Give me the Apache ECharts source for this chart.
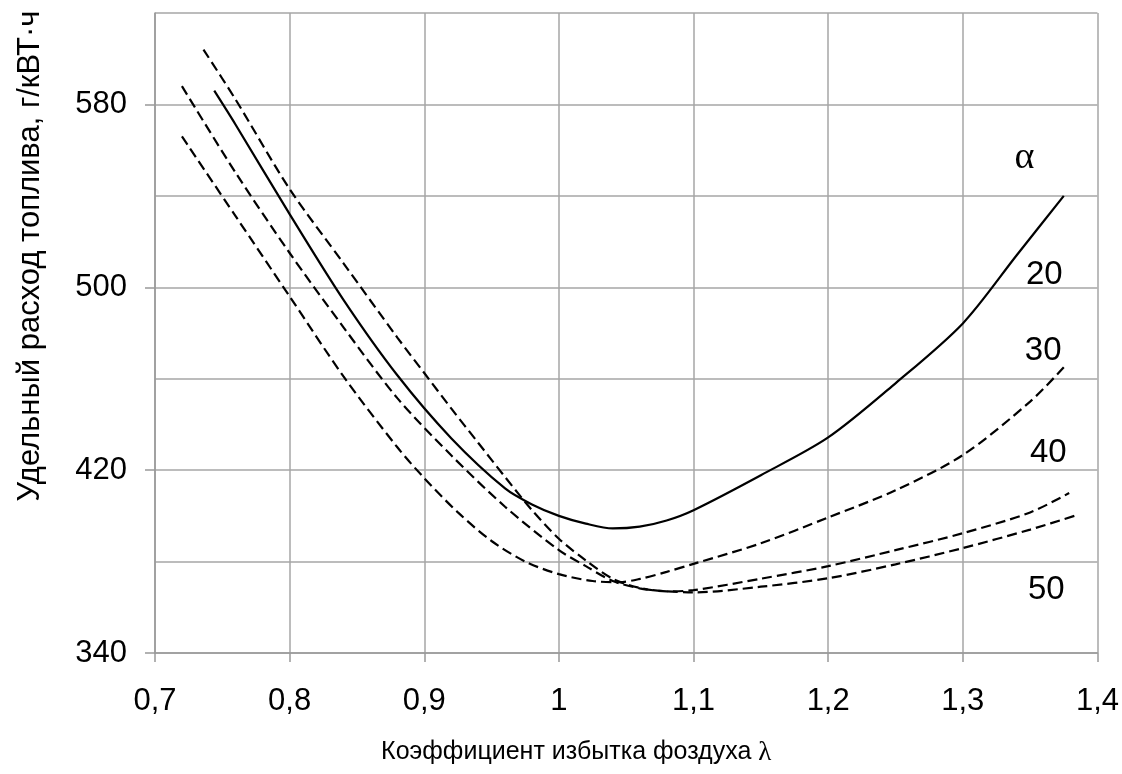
<!DOCTYPE html>
<html><head><meta charset="utf-8">
<script src="https://cdn.jsdelivr.net/npm/echarts@6/dist/echarts.min.js"></script>
<style>html,body{margin:0;padding:0;background:#fff}#c{width:1122px;height:774px}</style>
</head><body><div id="c"></div>
<script>
// Tick values
const yTickLabels = [340, 420, 500, 580];

// Curve series (λ, specific fuel consumption g/kWh)
const alpha20 = [[0.744,586],[0.76,571],[0.8,532],[0.84,494.5],[0.88,461.5],[0.92,434],[0.96,412],[0.98,405],[1.0,400],[1.02,396.6],[1.04,394.5],[1.06,395.3],[1.08,398],[1.1,402.5],[1.15,417.8],[1.2,434.3],[1.25,458],[1.3,484.2],[1.34,514],[1.375,540]];
const alpha30 = [[0.72,566],[0.76,531],[0.8,496],[0.84,461],[0.88,430],[0.9,416.5],[0.925,401.5],[0.95,389],[0.975,380],[1.0,374.5],[1.025,371.5],[1.045,371],[1.06,372.4],[1.08,375.5],[1.1,379],[1.15,388],[1.2,399.3],[1.25,411.2],[1.3,426.6],[1.35,450],[1.375,465]];
const alpha40 = [[0.736,604],[0.76,582],[0.8,543],[0.84,510.5],[0.88,478],[0.9,462.5],[0.92,447],[0.94,432],[0.96,417],[0.98,402.5],[1.0,390],[1.02,380.5],[1.04,372.5],[1.06,368.5],[1.08,367],[1.1,367.5],[1.15,372.5],[1.2,378],[1.25,385],[1.3,392.4],[1.35,401.5],[1.379,410]];
const alpha50 = [[0.72,588],[0.76,550],[0.8,515],[0.84,482.5],[0.88,451.5],[0.92,426.5],[0.96,404],[1.0,385],[1.02,378],[1.04,371.5],[1.06,368.3],[1.08,367],[1.1,366.5],[1.15,369],[1.2,372.7],[1.25,378.8],[1.3,385.9],[1.35,394],[1.385,400.4]];

// Curve annotations
const curveLabels = ['α', '20', '30', '40', '50'];
const curveLabelAnchors = [[1.3457,556.5],[1.3605,505.4],[1.3597,472.1],[1.3635,427.5],[1.362,367.6]];

const gridColor = '#a6a6a6';
const axisColor = '#999999';
const font = '"Liberation Sans", Arial, sans-serif';
const serif = '"Liberation Serif", "Times New Roman", serif';

function fmtX(v){ return String(Math.round(v*10)/10).replace('.', ','); }

const chart = echarts.init(document.getElementById('c'), null, {renderer:'canvas'});
const dash = [10,5];
function lineSeries(name, data, dashed){
  return {
    name, type:'line', data, smooth:0.3, showSymbol:false, symbol:'none',
    xAxisIndex:0, yAxisIndex:0, z:5,
    lineStyle:{color:'#000', width:2.2, type: dashed ? dash : 'solid'}
  };
}

chart.setOption({
  animation:false,
  backgroundColor:'#fff',
  grid:{left:155, right:23, top:13, bottom:121, containLabel:false},
  xAxis:{
    type:'value', min:0.7, max:1.4, interval:0.1,
    axisLine:{show:true, lineStyle:{color:axisColor, width:1.5}},
    axisTick:{show:true, length:9, lineStyle:{color:axisColor, width:1.5}},
    axisLabel:{margin:33, fontSize:31, color:'#000', fontFamily:font, formatter:fmtX},
    splitLine:{show:true, lineStyle:{color:gridColor, width:1.5}},
    name:'Коэффициент избытка фоздуха {l|λ}', nameLocation:'middle', nameGap:86,
    nameTextStyle:{fontSize:25, color:'#000', fontFamily:font, padding:[0,100,0,0],
      rich:{l:{fontSize:27, fontFamily:serif, color:'#000'}}}
  },
  yAxis:[{
    type:'value', min:340, max:620, interval:40, position:'left',
    axisLine:{show:true, lineStyle:{color:axisColor, width:1.5}},
    axisTick:{show:false},
    axisLabel:{show:false},
    splitLine:{show:true, lineStyle:{color:gridColor, width:1.5}},
    name:'Удельный расход топлива, г/кВТ·ч', nameLocation:'middle', nameRotate:90, nameGap:109,
    nameTextStyle:{fontSize:31, color:'#000', fontFamily:font, padding:[0,0,0,154]}
  },{
    type:'value', min:340, max:620, interval:80, position:'left', offset:0,
    axisLine:{show:false},
    axisTick:{show:true, length:10, customValues:yTickLabels, lineStyle:{color:axisColor, width:1.5}},
    axisLabel:{margin:28, fontSize:31, color:'#000', fontFamily:font, customValues:yTickLabels},
    splitLine:{show:false}
  }],
  series:[
    lineSeries('20', alpha20, false),
    lineSeries('30', alpha30, true),
    lineSeries('40', alpha40, true),
    lineSeries('50', alpha50, true)
  ]
});

// Curve annotations as text placed through the axes' own scales
chart.setOption({
  graphic: curveLabels.map((t, i) => {
    const p = chart.convertToPixel({xAxisIndex:0, yAxisIndex:0}, curveLabelAnchors[i]);
    return {
      type:'text', x:p[0], y:p[1], z:10, silent:true,
      style:{text:t, fill:'#000', align:'center', verticalAlign:'middle',
        font: t === 'α' ? ('38px ' + serif) : ('33px ' + font)}
    };
  })
});
</script></body></html>
